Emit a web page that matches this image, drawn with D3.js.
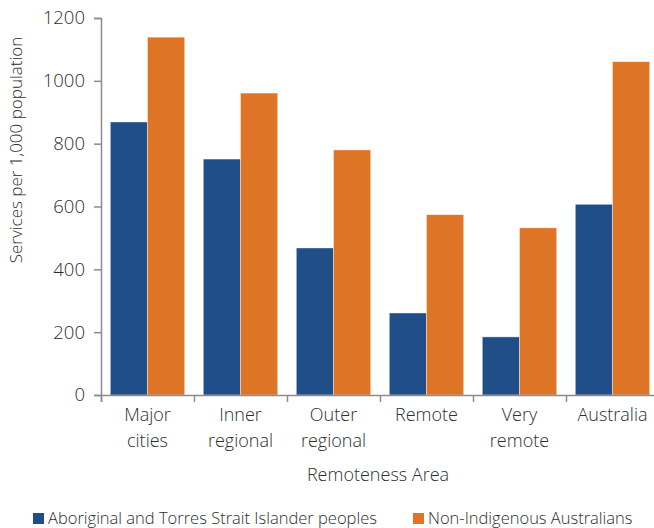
<!DOCTYPE html>
<html>
<head>
<meta charset="utf-8">
<script src="https://cdn.jsdelivr.net/npm/d3@7"></script>
<style>
  body { margin: 0; background: #fff; }
  svg text { font-family: "Open Sans", sans-serif; font-weight: 300; fill: #2e2e2e; }
</style>
</head>
<body>
<div id="chart"></div>
<script>
// data
const categories = [["Major", "cities"], ["Inner", "regional"], ["Outer", "regional"], ["Remote"], ["Very", "remote"], ["Australia"]];
const seriesNames = ["Aboriginal and Torres Strait Islander peoples", "Non-Indigenous Australians"];
const indigenous = [869, 751, 468, 261, 185, 607];
const nonIndigenous = [1139, 961, 780, 574, 532, 1061];
const yTicks = [0, 200, 400, 600, 800, 1000, 1200];

const colors = ["#1f4e89", "#dd7426"];

const width = 654, height = 528;
const margin = {top: 18, right: -5, bottom: 133, left: 101};

const svg = d3.select("#chart").append("svg")
    .attr("width", width)
    .attr("height", height);

const keys = categories.map((c, i) => i);

// x: groups, then series inside each group
const x0 = d3.scaleBand()
    .domain(keys)
    .range([margin.left, width - margin.right])
    .padding(0);

const gap = x0.bandwidth() * 0.1;
const x1 = d3.scaleBand()
    .domain([0, 1])
    .range([gap, x0.bandwidth() - gap]);

const y = d3.scaleLinear()
    .domain([0, 1200])
    .range([height - margin.bottom, margin.top]);

// bars
const groups = svg.append("g").selectAll("g")
    .data(keys)
  .enter().append("g")
    .attr("transform", d => "translate(" + x0(d) + ",0)");

groups.selectAll("rect")
    .data(i => [indigenous[i], nonIndigenous[i]])
  .enter().append("rect")
    .attr("x", (d, j) => x1(j))
    .attr("y", d => y(d))
    .attr("width", x1.bandwidth())
    .attr("height", d => y(0) - y(d))
    .attr("fill", (d, j) => colors[j])
    .attr("stroke", "#ffffff")
    .attr("stroke-opacity", 0.5)
    .attr("stroke-width", 0.8);

// y axis
const yAxis = d3.axisLeft(y)
    .tickValues(yTicks)
    .tickSize(7)
    .tickPadding(9)
    .tickFormat(d3.format("d"));

const gy = svg.append("g")
    .attr("transform", "translate(" + margin.left + ",0)")
    .call(yAxis);
gy.selectAll("text").style("font-size", "18.5px");

// x axis (ticks at group boundaries)
const bounds = keys.concat([keys.length]);
const xb = d3.scaleLinear().domain([0, keys.length]).range(x0.range());
const xAxis = d3.axisBottom(xb)
    .tickValues(bounds)
    .tickSize(7)
    .tickFormat("");

svg.append("g")
    .attr("transform", "translate(0," + y(0) + ")")
    .call(xAxis);

svg.selectAll(".domain, .tick line")
    .attr("stroke", "#8c8c8c")
    .attr("stroke-width", 1.5);

// category labels
const catLabels = svg.append("g").selectAll("text")
    .data(keys)
  .enter().append("text")
    .attr("x", d => x0(d) + x0.bandwidth() / 2)
    .attr("y", y(0) + 26)
    .attr("text-anchor", "middle")
    .style("font-size", "18px");

catLabels.selectAll("tspan")
    .data(d => categories[d])
  .enter().append("tspan")
    .attr("x", function() { return d3.select(this.parentNode).attr("x"); })
    .attr("dy", (d, i) => i === 0 ? 0 : 26)
    .text(d => d);

// axis titles
svg.append("text")
    .attr("x", 378)
    .attr("y", 481)
    .attr("text-anchor", "middle")
    .style("font-size", "18px")
    .text("Remoteness Area");

svg.append("text")
    .attr("transform", "translate(22,150) rotate(-90)")
    .attr("text-anchor", "middle")
    .style("font-size", "17px")
    .text("Services per 1,000 population");

// legend
const legendX = [33, 413];
const legend = svg.append("g").selectAll("g")
    .data(seriesNames)
  .enter().append("g")
    .attr("transform", (d, i) => "translate(" + legendX[i] + ",513)");

legend.append("rect")
    .attr("width", 11)
    .attr("height", 11)
    .attr("fill", (d, i) => colors[i]);

legend.append("text")
    .attr("x", 15)
    .attr("y", 11)
    .style("font-size", "16.5px")
    .text(d => d);
</script>
</body>
</html>
